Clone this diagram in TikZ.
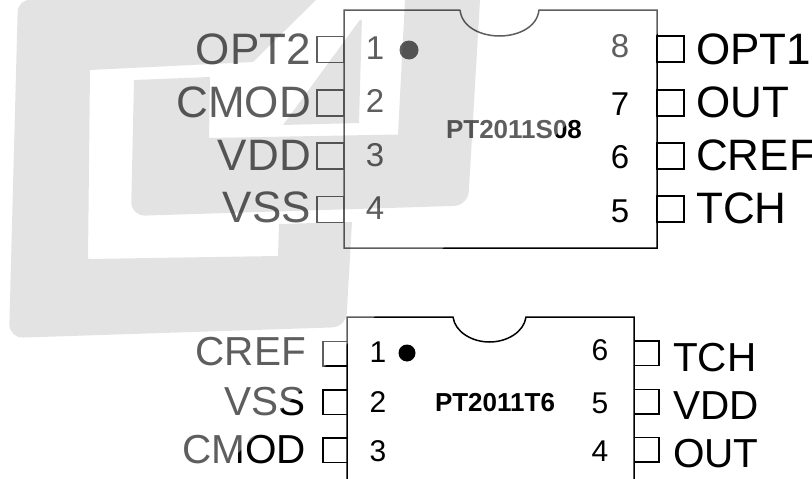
\documentclass[tikz,border=0pt]{standalone}
\usepackage{fontspec}
\setmainfont{Liberation Sans}
\tikzset{
  x=1pt,y=-1pt,
  chipline/.style={draw=black,line width=1.5pt,line join=miter},
  pinbox/.style={draw=black,line width=1.5pt,fill=none,minimum width=27pt,minimum height=26pt,inner sep=0pt,outer sep=0pt},
  pinboxb/.style={pinbox,minimum width=24.5pt,minimum height=24.5pt},
  lblL/.style={anchor=base east,inner sep=0pt,font=\fontsize{44}{44}\selectfont},
  lblR/.style={anchor=base west,inner sep=0pt,font=\fontsize{44}{44}\selectfont},
  lblLb/.style={anchor=base east,inner sep=0pt,font=\fontsize{40.5}{40.5}\selectfont},
  lblRb/.style={anchor=base west,inner sep=0pt,font=\fontsize{40.5}{40.5}\selectfont},
  num/.style={anchor=base,inner sep=0pt,font=\fontsize{33}{33}\selectfont},
  numb/.style={anchor=base,inner sep=0pt,font=\fontsize{30}{30}\selectfont},
  partname/.style={anchor=base,inner sep=0pt,font=\fontsize{26}{26}\selectfont\bfseries},
  dotmark/.style={circle,fill=black,inner sep=0pt},
  veil/.style={fill=white,fill opacity=.37,draw=none},
  mark shade/.style={fill=black,fill opacity=.11,draw=none},
}
\begin{document}
\begin{tikzpicture}
\useasboundingbox (0,0) rectangle (812,479);
\fill[white] (0,0) rectangle (812,479);

% upper chip
\draw[chipline] (460,10) -- (344,10) -- (344,248) -- (657,248) -- (657,10) -- (539,10)
  .. controls (537,28) and (517,36) .. (499.5,36)
  .. controls (482,36) and (462,28) .. (460,10);
\node[dotmark,minimum size=19pt] (dotA) at (409,50) {};
\node[partname] (partA) at (514,138) {PT2011S08};

\foreach \n/\y/\yb/\t/\yt in {a1/49.5/59/OPT2/64,a2/103/112/CMOD/117,a3/156/166/VDD/170,a4/209.5/219/VSS/222}{
  \node[pinbox] (pin\n) at (330.5,\y) {};
  \node[lblL] (lab\n) at (311,\yt) {\t};
}
\node[num] (numa1) at (375,59) {1};
\node[num] (numa2) at (375,112) {2};
\node[num] (numa3) at (375,166) {3};
\node[num] (numa4) at (375,219) {4};

\foreach \n/\y/\t/\yt in {a8/49/OPT1/64.5,a7/103/OUT/117.5,a6/156/CREF/170.5,a5/209/TCH/223.5}{
  \node[pinbox] (pin\n) at (670.5,\y) {};
  \node[lblR] (lab\n) at (696,\yt) {\t};
}
\node[num] (numa8) at (620,57) {8};
\node[num] (numa7) at (620,115) {7};
\node[num] (numa6) at (620,168) {6};
\node[num] (numa5) at (620,222) {5};

% lower chip
\draw[chipline] (347,479) -- (347,317) -- (453,317)
  .. controls (455,332) and (472,342) .. (489.5,342)
  .. controls (507,342) and (524,332) .. (526,317)
  -- (634,317) -- (634,479);
\node[dotmark,minimum size=17pt] (dotB) at (407,353) {};
\node[partname] (partB) at (495,411) {PT2011T6};

\foreach \n/\y/\t/\yt/\ny/\d in {b1/353.5/CREF/365/362/1,b2/402/VSS/415/412/2,b3/450/CMOD/463/461/3}{
  \node[pinboxb] (pin\n) at (335,\y) {};
  \node[lblLb] (lab\n) at (306,\yt) {\t};
  \node[numb] (num\n) at (378,\ny) {\d};
}
\foreach \n/\y/\t/\yt/\ny/\d in {b6/353/TCH/371/360/6,b5/401.5/VDD/419/413/5,b4/449.5/OUT/467/461/4}{
  \node[pinboxb] (pin\n) at (646.5,\y) {};
  \node[lblRb] (lab\n) at (673,\yt) {\t};
  \node[numb] (num\n) at (600,\ny) {\d};
}

% translucent watermark lying over the drawing
\fill[veil] (0,0) -- (691,0) -- (212,479) -- (0,479) -- cycle;
\fill[mark shade] (316,0) -- (253,62) -- (90,70) -- (88,259) -- (278,256) -- (279,224) -- (352,222)
  [rounded corners=14pt] -- (346,327) -- (9,338) [rounded corners=14pt] -- (18,-2) [sharp corners] -- (32,0) -- cycle;
\fill[mark shade] (134,80) -- (210,77) -- (209,138) -- (398,134.5) -- (405,0) -- (480,0)
  [rounded corners=14pt] -- (468,205.5) -- (131,216) [sharp corners] -- cycle;
\fill[mark shade] (283,125) [rounded corners=5pt] -- (362,17) [sharp corners] -- (359,123) -- cycle;
\end{tikzpicture}
\end{document}
